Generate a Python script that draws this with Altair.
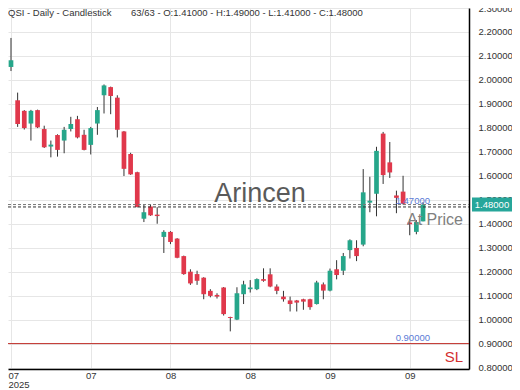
import altair as alt
import pandas as pd

# ---------------- data ----------------
idx = list(range(63))
opens = [2.054, 1.915, 1.871, 1.818, 1.874, 1.795, 1.722, 1.770, 1.747, 1.795,
         1.836, 1.771, 1.729, 1.818, 1.936, 1.970, 1.926, 1.785, 1.691, 1.615,
         1.421, 1.472, 1.438, 1.345, 1.366, 1.338, 1.265, 1.200, 1.190, 1.175,
         1.120, 1.103, 1.134, 1.011, 1.000, 1.106, 1.127, 1.127, 1.169, 1.189,
         1.138, 1.096, 1.080, 1.080, 1.085, 1.085, 1.065, 1.147, 1.121, 1.210,
         1.204, 1.290, 1.299, 1.313, 1.488, 1.525, 1.776, 1.656, 1.518, 1.534,
         1.405, 1.366, 1.410]
highs = [2.175, 1.947, 1.874, 1.875, 1.876, 1.809, 1.747, 1.773, 1.804, 1.846,
         1.850, 1.792, 1.804, 1.887, 1.981, 1.972, 1.936, 1.787, 1.696, 1.617,
         1.480, 1.480, 1.469, 1.373, 1.369, 1.340, 1.267, 1.210, 1.204, 1.177,
         1.127, 1.110, 1.136, 1.012, 1.135, 1.162, 1.165, 1.172, 1.214, 1.214,
         1.147, 1.120, 1.096, 1.082, 1.087, 1.087, 1.162, 1.155, 1.213, 1.248,
         1.278, 1.335, 1.331, 1.628, 1.596, 1.721, 1.783, 1.741, 1.538, 1.600,
         1.420, 1.415, 1.490]
lows = [2.037, 1.804, 1.793, 1.747, 1.799, 1.716, 1.677, 1.680, 1.694, 1.785,
        1.756, 1.706, 1.689, 1.771, 1.860, 1.857, 1.760, 1.599, 1.604, 1.468,
        1.407, 1.433, 1.400, 1.278, 1.315, 1.256, 1.187, 1.145, 1.145, 1.085,
        1.093, 1.088, 1.017, 0.951, 0.998, 1.065, 1.113, 1.123, 1.158, 1.135,
        1.106, 1.075, 1.034, 1.034, 1.041, 1.041, 1.063, 1.085, 1.118, 1.168,
        1.186, 1.255, 1.244, 1.306, 1.448, 1.431, 1.566, 1.591, 1.444, 1.480,
        1.352, 1.356, 1.410]
closes = [2.082, 1.816, 1.799, 1.871, 1.802, 1.719, 1.730, 1.708, 1.792, 1.816,
          1.760, 1.708, 1.799, 1.874, 1.977, 1.933, 1.792, 1.629, 1.606, 1.470,
          1.448, 1.435, 1.432, 1.366, 1.324, 1.258, 1.190, 1.151, 1.162, 1.106,
          1.099, 1.096, 1.023, 1.007, 1.110, 1.147, 1.134, 1.169, 1.162, 1.138,
          1.120, 1.085, 1.065, 1.071, 1.075, 1.052, 1.155, 1.121, 1.204, 1.186,
          1.265, 1.331, 1.265, 1.531, 1.496, 1.704, 1.603, 1.614, 1.508, 1.483,
          1.398, 1.407, 1.480]

x_tick_values = [0, 12, 24, 36, 48, 60]
x_tick_labels = [["07", "2025"], "07", "08", "08", "09", "09"]
y_tick_values = [0.8, 0.9, 1.0, 1.1, 1.2, 1.3, 1.4, 1.5, 1.6, 1.7,
                 1.8, 1.9, 2.0, 2.1, 2.2, 2.3]

title_left = "QSI - Daily - Candlestick"
title_right = "63/63 - O:1.41000 - H:1.49000 - L:1.41000 - C:1.48000"
watermark = "Arincen"
price_level = 1.48
at_price_level = 1.47
sl_level = 0.90

# ---------------- styling ----------------
GREEN = "#26a68a"
RED = "#e0384b"
WICK = "#333333"
GRID = "#e6e6e6"
BLUE = "#5c7cd6"
FONT = "Liberation Sans"

X_DOMAIN = [-0.45, 68.92]
Y_DOMAIN = [0.794, 2.3]
xs = alt.Scale(domain=X_DOMAIN, nice=False, zero=False, padding=0)
ys = alt.Scale(domain=Y_DOMAIN, nice=False, zero=False, padding=0)

df = pd.DataFrame({"i": idx, "open": opens, "high": highs,
                   "low": lows, "close": closes})
df["dir"] = ["up" if c >= o else "down" for o, c in zip(opens, closes)]

def label_expr(values, labels):
    parts = []
    for v, l in zip(values, labels):
        if isinstance(l, list):
            txt = "[" + ",".join("'%s'" % s for s in l) + "]"
        else:
            txt = "'%s'" % l
        parts.append("datum.value == %s ? %s : " % (v, txt))
    return "".join(parts) + "''"

first_tick = "datum.value == %s" % x_tick_values[0]
x_axis = alt.Axis(values=x_tick_values, labelExpr=label_expr(x_tick_values, x_tick_labels),
                  grid=True, gridColor=GRID, gridWidth=1, ticks=False, tickSize=0,
                  domainColor="#000000", domainWidth=1.5, labelFontSize=9.5,
                  labelColor="#333333", labelFont=FONT, labelPadding=1,
                  labelAlign=alt.condition(first_tick, alt.value("left"), alt.value("center")),
                  labelOffset=alt.condition(first_tick, alt.value(-3), alt.value(0)),
                  labelLineHeight=9.5, labelBaseline="top", title=None, labelFlush=False)
y_axis = alt.Axis(orient="right", values=y_tick_values, format=".5f",
                  grid=True, gridColor=GRID, gridWidth=1, ticks=False, tickSize=0,
                  domainColor="#000000", domainWidth=1.5, labelFontSize=9.5,
                  labelColor="#333333", labelFont=FONT, labelPadding=9, title=None,
                  labelFlush=False)

color_scale = alt.Scale(domain=["up", "down"], range=[GREEN, RED])

wicks = alt.Chart(df).mark_rule(color=WICK, strokeWidth=1).encode(
    x=alt.X("i:Q", scale=xs, axis=x_axis),
    y=alt.Y("low:Q", scale=ys, axis=y_axis),
    y2="high:Q",
)
bodies = alt.Chart(df).mark_bar(size=4.7).encode(
    x=alt.X("i:Q", scale=xs, axis=x_axis),
    y=alt.Y("open:Q", scale=ys, axis=y_axis),
    y2="close:Q",
    color=alt.Color("dir:N", scale=color_scale, legend=None),
)

lv = pd.DataFrame({"level": [price_level]})
ap = pd.DataFrame({"level": [at_price_level]})
sl = pd.DataFrame({"level": [sl_level]})

def hline(d, **kw):
    return alt.Chart(d).mark_rule(**kw).encode(
        x=alt.value(0), x2=alt.value(461),
        y=alt.Y("level:Q", scale=ys, axis=y_axis))

price_line = hline(lv, color="#777777", strokeWidth=1, strokeDash=[3, 2])
at_line = hline(ap, color="#333333", strokeWidth=1, strokeDash=[3, 2])
sl_line = hline(sl, color="#c0302b", strokeWidth=1)

def ytext(d, text, xpx, dy, **kw):
    return alt.Chart(d).mark_text(text=text, dy=dy, font=FONT, **kw).encode(
        x=alt.value(xpx), y=alt.Y("level:Q", scale=ys, axis=y_axis))

at_label = ytext(ap, "1.47000", 422, -6, align="right", baseline="middle",
                 fontSize=9.5, color=BLUE)
at_text = ytext(ap, "At Price", 455, 13, align="right", baseline="middle",
                fontSize=16, color="#808080")
sl_label = ytext(sl, "0.90000", 422, -6, align="right", baseline="middle",
                 fontSize=9.5, color=BLUE)
sl_text = ytext(sl, "SL", 455, 13, align="right", baseline="middle",
                fontSize=15, color="#d32f2f")

price_box = alt.Chart(lv).mark_rule(color="#26a69a", strokeWidth=14, strokeCap="butt").encode(
    x=alt.value(464), x2=alt.value(504), y=alt.Y("level:Q", scale=ys, axis=y_axis))
price_text = ytext(lv, "1.48000", 484, 0, align="center", baseline="middle",
                   fontSize=9.5, color="#ffffff")

def ptext(text, xpx, ypx, **kw):
    return alt.Chart(pd.DataFrame({"t": [text]})).mark_text(font=FONT, **kw).encode(
        x=alt.value(xpx), y=alt.value(ypx), text="t:N")

t1 = ptext(title_left, 0, 5, align="left", baseline="middle", fontSize=9.5, color="#333333")
t2 = ptext(title_right, 123, 5, align="left", baseline="middle", fontSize=9.5, color="#333333")
wm = ptext(watermark, 252, 194, align="center", baseline="alphabetic", fontSize=27,
           color="#5a5a5a")

chart = alt.layer(
    wicks, bodies, wm, price_line, at_line, sl_line,
    at_label, at_text, sl_label, sl_text, price_box, price_text, t1, t2,
).properties(
    width=461, height=361,
    autosize=alt.AutoSizeParams(type="none"),
    padding={"left": 0, "top": 0, "right": 43, "bottom": 22},
).configure_view(stroke=None)

chart.save("out.html", embed_options={"renderer": "svg", "actions": False})
